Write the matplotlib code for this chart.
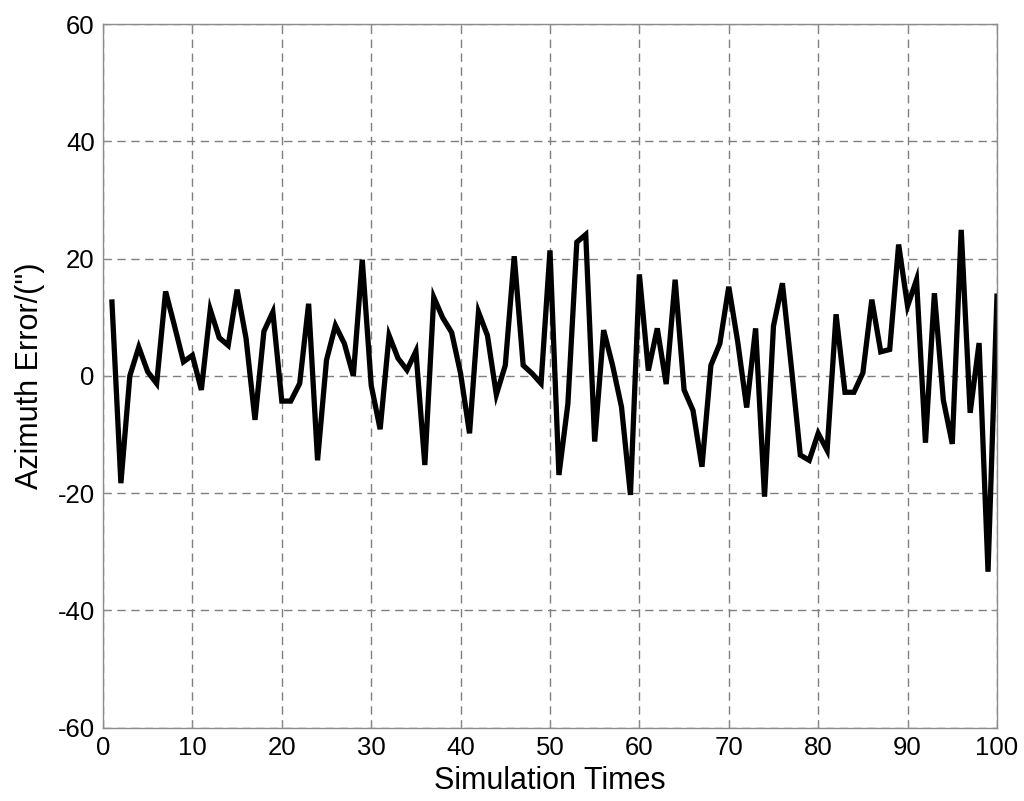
import matplotlib
matplotlib.use("Agg")
import matplotlib.pyplot as plt
import numpy as np

# simulation index and azimuth error (arcsec)
times = np.arange(1, 101)
azimuth_error = [
    12.6, -18.3, 0.0, 4.9, 0.7, -1.3, 14.4, 8.5, 2.4, 3.5,
    -2.4, 11.3, 6.5, 5.2, 14.7, 6.4, -7.5, 7.6, 10.9, -4.3,
    -4.3, -1.3, 12.3, -14.4, 2.7, 8.6, 5.5, 0.0, 19.8, -1.6,
    -9.1, 6.9, 3.0, 1.0, 4.2, -15.2, 13.4, 9.9, 7.4, 0.4,
    -9.8, 10.9, 6.9, -3.2, 1.8, 20.4, 1.8, 0.4, -1.3, 21.4,
    -16.9, -4.8, 22.8, 24.1, -11.2, 7.8, 1.8, -5.3, -20.3, 17.3,
    0.9, 8.1, -1.4, 16.4, -2.4, -5.9, -15.5, 1.8, 5.5, 15.2,
    5.8, -5.4, 8.1, -20.6, 8.5, 15.8, 1.5, -13.5, -14.4, -9.8,
    -12.7, 10.5, -2.8, -2.8, 0.5, 13.0, 4.1, 4.5, 22.4, 11.9,
    16.4, -11.4, 14.1, -4.1, -11.6, 24.9, -6.3, 5.6, -33.4, 13.6,
]
x_ticks = np.arange(0, 101, 10)
y_ticks = np.arange(-60, 61, 20)

plt.rcParams['font.family'] = ['Liberation Sans', 'DejaVu Sans']
plt.rcParams['axes.unicode_minus'] = False

fig = plt.figure(figsize=(10.24, 8.01), dpi=100)
ax = fig.add_axes([0.1006, 0.0915, 0.873, 0.8785])

ax.plot(times, azimuth_error, color="black", linewidth=3.8, solid_joinstyle="miter")

ax.set_xlim(0, 100)
ax.set_ylim(-60, 60)
ax.set_xticks(x_ticks)
ax.set_yticks(y_ticks)
ax.grid(True, color="#7f7f7f", linestyle=(0, (6, 4)), linewidth=1.0)

for s in ax.spines.values():
    s.set_color("#8c8c8c")
    s.set_linewidth(1.0)
ax.tick_params(direction="in", length=4, color="#8c8c8c", labelsize=18.5,
               top=True, right=True, pad=6)

ax.set_xlabel("Simulation Times", fontsize=22, labelpad=4)
ax.set_ylabel("Azimuth Error/(\")", fontsize=22, labelpad=9)

fig.savefig("out.png", dpi=100)
